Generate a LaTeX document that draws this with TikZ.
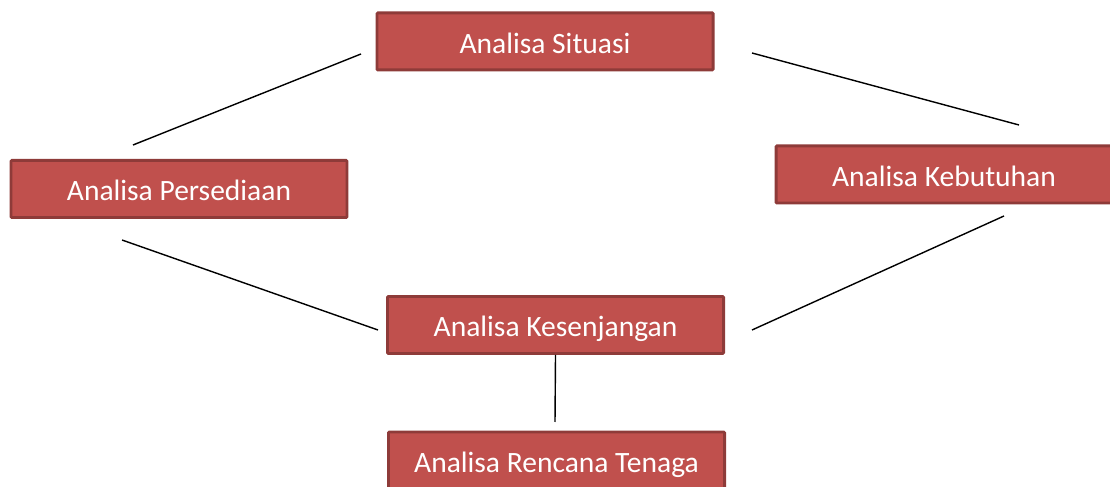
\documentclass[tikz,border=0pt]{standalone}
\usepackage{fontspec}
\setmainfont{Carlito}
\definecolor{boxred}{HTML}{C0504D}
\definecolor{boxedge}{HTML}{8E3B39}
\tikzset{
    stage/.style={draw=boxedge, fill=boxred, line width=1.7pt, rounded corners=0.5pt,
        minimum width=6.72cm, minimum height=1.14cm, text=white,
        text height=2.95ex, text depth=0.2ex,
        font=\fontsize{16.8}{19}\selectfont},
    link/.style={line width=0.8pt}
}
\begin{document}
\begin{tikzpicture}
            \clip (0, 0) rectangle (22.2, -9.74);
            \useasboundingbox (0, 0) rectangle (22.2, -9.74);

            \node[stage] (sit) at (10.90, -0.83) { Analisa Situasi };
            \node[stage] (per) at (3.58, -3.78) { Analisa Persediaan };
            \node[stage] (keb) at (18.88, -3.49) { Analisa Kebutuhan };
            \node[stage] (kes) at (11.11, -6.50) { Analisa Kesenjangan };
            \node[stage] (ren) at (11.13, -9.21) { Analisa Rencana Tenaga };

            \coordinate (a1) at (2.66, -2.90);
            \coordinate (a2) at (7.22, -1.08);
            \coordinate (b1) at (15.04, -1.06);
            \coordinate (b2) at (20.38, -2.50);
            \coordinate (c1) at (2.44, -4.80);
            \coordinate (c2) at (7.56, -6.60);
            \coordinate (d1) at (20.08, -4.32);
            \coordinate (d2) at (15.04, -6.60);
            \coordinate (e2) at (11.10, -8.44);

            \draw[link] (a1) -- (a2);
            \draw[link] (b1) -- (b2);
            \draw[link] (c1) -- (c2);
            \draw[link] (d1) -- (d2);
            \draw[link] (kes.south) -- (e2);
\end{tikzpicture}
\end{document}
